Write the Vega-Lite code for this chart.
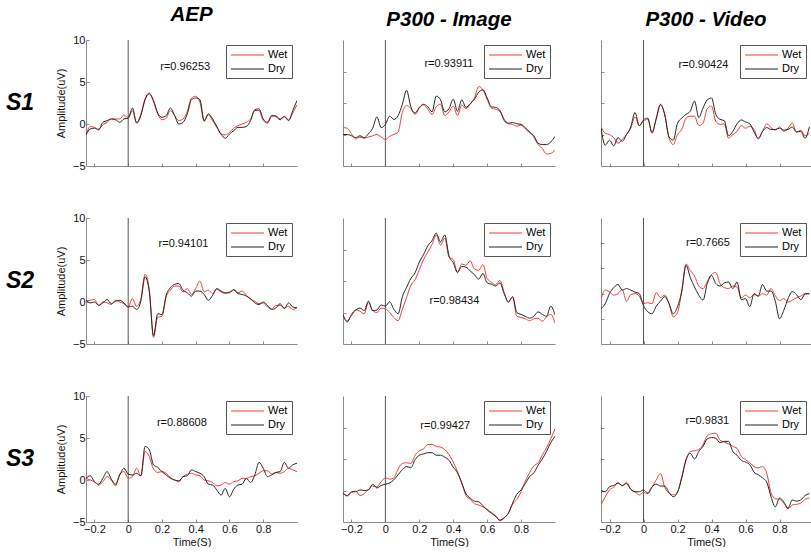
{
"$schema": "https://vega.github.io/schema/vega-lite/v6.json",
"padding": {"left": 0, "top": 4, "right": 0, "bottom": 0},
"autosize": {"type": "pad"},
"config": {
  "view": {"stroke": null},
  "font": "Liberation Sans",
  "axis": {"domainColor": "#8a8a8a", "tickColor": "#8a8a8a", "grid": false, "tickSize": -3, "labelFontSize": 11, "titleFontSize": 11, "titleFontWeight": "normal", "labelColor": "#111", "titleColor": "#111", "labelPadding": 4},
  "title": {"fontSize": 20.5, "fontStyle": "italic", "fontWeight": "bold", "frame": "group", "baseline": "alphabetic", "offset": 9, "color": "#000"},
  "legend": {"title": null, "orient": "top-right", "offset": 5, "strokeColor": "#555", "fillColor": "white", "padding": 4, "symbolType": "M-1,0H5.6", "symbolSize": 100, "symbolStrokeWidth": 1.2, "labelFontSize": 11, "labelOffset": 26, "rowPadding": 3}
},
"datasets": {
"s1_aep": [
{"t":-0.25,"Wet":-1.3,"Dry":-1.3},{"t":-0.225,"Wet":-0.3,"Dry":-0.6},{"t":-0.2,"Wet":-0.4,"Dry":-0.5},{"t":-0.175,"Wet":-0.6,"Dry":-0.7},{"t":-0.15,"Wet":-0.1,"Dry":0.2},{"t":-0.125,"Wet":0.2,"Dry":0.4},{"t":-0.1,"Wet":0.6,"Dry":0.6},{"t":-0.075,"Wet":0.6,"Dry":0.5},{"t":-0.05,"Wet":0.6,"Dry":0.2},{"t":-0.025,"Wet":1.1,"Dry":0.6},{"t":0,"Wet":0.7,"Dry":0.7},{"t":0.025,"Wet":1.6,"Dry":1.9},{"t":0.05,"Wet":0.2,"Dry":0.1},{"t":0.075,"Wet":1.2,"Dry":1.0},{"t":0.1,"Wet":3.0,"Dry":2.9},{"t":0.125,"Wet":3.7,"Dry":3.6},{"t":0.15,"Wet":2.6,"Dry":2.8},{"t":0.175,"Wet":1.2,"Dry":1.3},{"t":0.2,"Wet":0.5,"Dry":0.8},{"t":0.225,"Wet":0.7,"Dry":1.0},{"t":0.25,"Wet":1.6,"Dry":1.9},{"t":0.275,"Wet":1.0,"Dry":1.0},{"t":0.3,"Wet":0.4,"Dry":0.0},{"t":0.325,"Wet":0.6,"Dry":0.2},{"t":0.35,"Wet":1.5,"Dry":1.2},{"t":0.375,"Wet":3.1,"Dry":2.9},{"t":0.4,"Wet":3.3,"Dry":3.1},{"t":0.425,"Wet":2.6,"Dry":2.9},{"t":0.45,"Wet":0.3,"Dry":0.4},{"t":0.475,"Wet":1.1,"Dry":1.2},{"t":0.5,"Wet":0.4,"Dry":0.6},{"t":0.525,"Wet":-0.4,"Dry":-0.3},{"t":0.55,"Wet":-1.2,"Dry":-1.2},{"t":0.575,"Wet":-1.3,"Dry":-1.7},{"t":0.6,"Wet":-1.0,"Dry":-1.2},{"t":0.625,"Wet":-0.5,"Dry":-0.8},{"t":0.65,"Wet":-0.2,"Dry":-0.4},{"t":0.675,"Wet":0.0,"Dry":-0.4},{"t":0.7,"Wet":0.2,"Dry":-0.3},{"t":0.725,"Wet":0.6,"Dry":0.4},{"t":0.75,"Wet":1.6,"Dry":1.7},{"t":0.775,"Wet":1.6,"Dry":1.8},{"t":0.8,"Wet":0.4,"Dry":0.6},{"t":0.825,"Wet":0.1,"Dry":0.2},{"t":0.85,"Wet":0.9,"Dry":1.0},{"t":0.875,"Wet":1.0,"Dry":0.9},{"t":0.9,"Wet":0.6,"Dry":0.5},{"t":0.925,"Wet":0.9,"Dry":0.9},{"t":0.95,"Wet":0.5,"Dry":0.4},{"t":0.975,"Wet":1.3,"Dry":1.6},{"t":1.0,"Wet":2.3,"Dry":2.8}
],
"s1_img": [
{"t":-0.25,"Wet":-3.9,"Dry":-5.0},{"t":-0.225,"Wet":-4.0,"Dry":-5.0},{"t":-0.2,"Wet":-4.9,"Dry":-5.2},{"t":-0.175,"Wet":-5.7,"Dry":-5.5},{"t":-0.15,"Wet":-5.4,"Dry":-5.2},{"t":-0.125,"Wet":-5.6,"Dry":-5.5},{"t":-0.1,"Wet":-5.4,"Dry":-4.9},{"t":-0.075,"Wet":-5.2,"Dry":-4.0},{"t":-0.05,"Wet":-5.0,"Dry":-2.2},{"t":-0.025,"Wet":-5.4,"Dry":-3.9},{"t":0,"Wet":-5.8,"Dry":-3.4},{"t":0.025,"Wet":-5.3,"Dry":-2.1},{"t":0.05,"Wet":-5.0,"Dry":-2.6},{"t":0.075,"Wet":-4.6,"Dry":-2.0},{"t":0.1,"Wet":-1.5,"Dry":-0.2},{"t":0.125,"Wet":-0.4,"Dry":2.0},{"t":0.15,"Wet":-0.9,"Dry":-0.6},{"t":0.175,"Wet":-1.8,"Dry":-1.6},{"t":0.2,"Wet":-0.8,"Dry":-0.7},{"t":0.225,"Wet":-0.3,"Dry":-0.2},{"t":0.25,"Wet":-1.0,"Dry":-0.6},{"t":0.275,"Wet":-1.8,"Dry":-1.4},{"t":0.3,"Wet":-0.6,"Dry":1.1},{"t":0.325,"Wet":-0.2,"Dry":0.5},{"t":0.35,"Wet":-2.0,"Dry":-1.4},{"t":0.375,"Wet":-1.4,"Dry":-0.9},{"t":0.4,"Wet":-0.5,"Dry":0.6},{"t":0.425,"Wet":-2.0,"Dry":-1.3},{"t":0.45,"Wet":-0.3,"Dry":0.5},{"t":0.475,"Wet":-0.9,"Dry":-0.7},{"t":0.5,"Wet":-0.2,"Dry":-0.1},{"t":0.525,"Wet":0.8,"Dry":0.6},{"t":0.55,"Wet":2.6,"Dry":1.7},{"t":0.575,"Wet":2.1,"Dry":2.1},{"t":0.6,"Wet":0.6,"Dry":0.8},{"t":0.625,"Wet":-0.8,"Dry":-0.6},{"t":0.65,"Wet":-1.0,"Dry":-0.7},{"t":0.675,"Wet":-1.3,"Dry":-1.2},{"t":0.7,"Wet":-2.8,"Dry":-2.6},{"t":0.725,"Wet":-3.3,"Dry":-3.2},{"t":0.75,"Wet":-3.4,"Dry":-3.1},{"t":0.775,"Wet":-3.7,"Dry":-3.3},{"t":0.8,"Wet":-3.5,"Dry":-3.4},{"t":0.825,"Wet":-4.1,"Dry":-3.9},{"t":0.85,"Wet":-4.7,"Dry":-4.6},{"t":0.875,"Wet":-5.4,"Dry":-5.2},{"t":0.9,"Wet":-6.6,"Dry":-6.4},{"t":0.925,"Wet":-7.2,"Dry":-6.6},{"t":0.95,"Wet":-8.1,"Dry":-6.6},{"t":0.975,"Wet":-8.0,"Dry":-6.2},{"t":1.0,"Wet":-7.5,"Dry":-5.3}
],
"s1_vid": [
{"t":-0.25,"Wet":-3.8,"Dry":-4.0},{"t":-0.225,"Wet":-4.8,"Dry":-6.7},{"t":-0.2,"Wet":-5.0,"Dry":-5.9},{"t":-0.175,"Wet":-5.5,"Dry":-6.8},{"t":-0.15,"Wet":-6.4,"Dry":-5.5},{"t":-0.125,"Wet":-5.8,"Dry":-6.1},{"t":-0.1,"Wet":-5.0,"Dry":-5.0},{"t":-0.075,"Wet":-4.0,"Dry":-3.8},{"t":-0.05,"Wet":-2.2,"Dry":-1.5},{"t":-0.025,"Wet":-3.6,"Dry":-3.6},{"t":0,"Wet":-2.9,"Dry":-2.7},{"t":0.025,"Wet":-2.6,"Dry":-2.4},{"t":0.05,"Wet":-4.6,"Dry":-4.8},{"t":0.075,"Wet":-2.6,"Dry":-2.4},{"t":0.1,"Wet":-0.3,"Dry":-0.2},{"t":0.125,"Wet":-1.8,"Dry":-1.9},{"t":0.15,"Wet":-5.5,"Dry":-5.4},{"t":0.175,"Wet":-6.6,"Dry":-5.9},{"t":0.2,"Wet":-5.0,"Dry":-3.2},{"t":0.225,"Wet":-4.2,"Dry":-2.4},{"t":0.25,"Wet":-2.4,"Dry":-1.8},{"t":0.275,"Wet":-2.1,"Dry":-1.3},{"t":0.3,"Wet":-2.1,"Dry":0.3},{"t":0.325,"Wet":-3.6,"Dry":-2.3},{"t":0.35,"Wet":-3.2,"Dry":-0.8},{"t":0.375,"Wet":-0.9,"Dry":0.5},{"t":0.4,"Wet":-0.5,"Dry":0.8},{"t":0.425,"Wet":-2.9,"Dry":-1.8},{"t":0.45,"Wet":-3.4,"Dry":-2.6},{"t":0.475,"Wet":-3.3,"Dry":-2.8},{"t":0.5,"Wet":-5.6,"Dry":-5.2},{"t":0.525,"Wet":-5.0,"Dry":-4.5},{"t":0.55,"Wet":-4.5,"Dry":-3.3},{"t":0.575,"Wet":-3.6,"Dry":-2.7},{"t":0.6,"Wet":-4.0,"Dry":-3.0},{"t":0.625,"Wet":-3.7,"Dry":-3.3},{"t":0.65,"Wet":-4.2,"Dry":-4.6},{"t":0.675,"Wet":-5.7,"Dry":-5.6},{"t":0.7,"Wet":-4.5,"Dry":-4.5},{"t":0.725,"Wet":-3.3,"Dry":-3.9},{"t":0.75,"Wet":-3.9,"Dry":-4.2},{"t":0.775,"Wet":-4.3,"Dry":-4.2},{"t":0.8,"Wet":-3.8,"Dry":-4.0},{"t":0.825,"Wet":-4.5,"Dry":-4.3},{"t":0.85,"Wet":-4.0,"Dry":-4.2},{"t":0.875,"Wet":-3.2,"Dry":-3.8},{"t":0.9,"Wet":-4.6,"Dry":-4.6},{"t":0.925,"Wet":-4.3,"Dry":-4.5},{"t":0.95,"Wet":-5.2,"Dry":-5.6},{"t":0.975,"Wet":-4.8,"Dry":-3.8}
],
"s2_aep": [
{"t":-0.25,"Wet":0.1,"Dry":0.2},{"t":-0.225,"Wet":0.2,"Dry":-0.1},{"t":-0.2,"Wet":0.3,"Dry":0.0},{"t":-0.175,"Wet":-0.4,"Dry":-0.4},{"t":-0.15,"Wet":0.0,"Dry":-0.1},{"t":-0.125,"Wet":-0.1,"Dry":0.3},{"t":-0.1,"Wet":-0.3,"Dry":-0.2},{"t":-0.075,"Wet":0.2,"Dry":0.1},{"t":-0.05,"Wet":0.0,"Dry":0.2},{"t":-0.025,"Wet":-0.2,"Dry":-0.1},{"t":0,"Wet":-0.6,"Dry":-0.6},{"t":0.025,"Wet":0.4,"Dry":-0.5},{"t":0.05,"Wet":-0.5,"Dry":-0.9},{"t":0.075,"Wet":0.4,"Dry":0.1},{"t":0.1,"Wet":3.3,"Dry":3.0},{"t":0.125,"Wet":1.5,"Dry":1.2},{"t":0.15,"Wet":-4.2,"Dry":-4.0},{"t":0.175,"Wet":-1.8,"Dry":-1.4},{"t":0.2,"Wet":-1.7,"Dry":-1.5},{"t":0.225,"Wet":0.6,"Dry":0.8},{"t":0.25,"Wet":1.4,"Dry":1.7},{"t":0.275,"Wet":1.9,"Dry":2.1},{"t":0.3,"Wet":1.9,"Dry":2.2},{"t":0.325,"Wet":1.2,"Dry":1.4},{"t":0.35,"Wet":1.6,"Dry":1.1},{"t":0.375,"Wet":0.9,"Dry":0.7},{"t":0.4,"Wet":1.6,"Dry":1.3},{"t":0.425,"Wet":2.5,"Dry":1.3},{"t":0.45,"Wet":1.2,"Dry":0.9},{"t":0.475,"Wet":1.4,"Dry":0.2},{"t":0.5,"Wet":1.0,"Dry":0.8},{"t":0.525,"Wet":1.5,"Dry":1.6},{"t":0.55,"Wet":1.2,"Dry":1.3},{"t":0.575,"Wet":1.0,"Dry":1.1},{"t":0.6,"Wet":1.2,"Dry":1.1},{"t":0.625,"Wet":1.4,"Dry":1.5},{"t":0.65,"Wet":1.1,"Dry":1.0},{"t":0.675,"Wet":1.3,"Dry":0.9},{"t":0.7,"Wet":0.8,"Dry":0.7},{"t":0.725,"Wet":0.3,"Dry":0.4},{"t":0.75,"Wet":0.1,"Dry":-0.1},{"t":0.775,"Wet":-0.2,"Dry":-0.3},{"t":0.8,"Wet":-0.1,"Dry":0.0},{"t":0.825,"Wet":-0.6,"Dry":-0.4},{"t":0.85,"Wet":-0.8,"Dry":-0.9},{"t":0.875,"Wet":-0.4,"Dry":-0.7},{"t":0.9,"Wet":-0.4,"Dry":-0.2},{"t":0.925,"Wet":-0.7,"Dry":-0.8},{"t":0.95,"Wet":-0.5,"Dry":-0.1},{"t":0.975,"Wet":-0.9,"Dry":-0.6},{"t":1.0,"Wet":-0.6,"Dry":-0.7}
],
"s2_img": [
{"t":-0.25,"Wet":-5.6,"Dry":-5.3},{"t":-0.225,"Wet":-6.3,"Dry":-6.5},{"t":-0.2,"Wet":-5.5,"Dry":-5.3},{"t":-0.175,"Wet":-4.6,"Dry":-4.6},{"t":-0.15,"Wet":-4.8,"Dry":-4.3},{"t":-0.125,"Wet":-5.2,"Dry":-4.7},{"t":-0.1,"Wet":-3.4,"Dry":-3.2},{"t":-0.075,"Wet":-4.7,"Dry":-4.7},{"t":-0.05,"Wet":-5.0,"Dry":-4.6},{"t":-0.025,"Wet":-4.3,"Dry":-3.8},{"t":0,"Wet":-4.4,"Dry":-4.0},{"t":0.025,"Wet":-5.0,"Dry":-3.3},{"t":0.05,"Wet":-5.8,"Dry":-4.5},{"t":0.075,"Wet":-6.3,"Dry":-5.2},{"t":0.1,"Wet":-4.5,"Dry":-2.5},{"t":0.125,"Wet":-2.6,"Dry":-1.0},{"t":0.15,"Wet":-0.7,"Dry":0.4},{"t":0.175,"Wet":0.2,"Dry":1.3},{"t":0.2,"Wet":1.8,"Dry":3.0},{"t":0.225,"Wet":3.4,"Dry":4.2},{"t":0.25,"Wet":4.6,"Dry":5.6},{"t":0.275,"Wet":5.8,"Dry":6.4},{"t":0.3,"Wet":7.3,"Dry":7.6},{"t":0.325,"Wet":5.7,"Dry":6.2},{"t":0.35,"Wet":6.8,"Dry":7.3},{"t":0.375,"Wet":3.8,"Dry":4.0},{"t":0.4,"Wet":3.4,"Dry":2.9},{"t":0.425,"Wet":1.3,"Dry":1.4},{"t":0.45,"Wet":2.7,"Dry":2.3},{"t":0.475,"Wet":2.5,"Dry":2.2},{"t":0.5,"Wet":3.2,"Dry":1.6},{"t":0.525,"Wet":1.9,"Dry":1.0},{"t":0.55,"Wet":1.7,"Dry":0.3},{"t":0.575,"Wet":2.6,"Dry":1.2},{"t":0.6,"Wet":0.4,"Dry":-0.3},{"t":0.625,"Wet":-0.2,"Dry":-0.5},{"t":0.65,"Wet":-0.6,"Dry":-0.8},{"t":0.675,"Wet":0.1,"Dry":-0.3},{"t":0.7,"Wet":-1.8,"Dry":-2.0},{"t":0.725,"Wet":-3.4,"Dry":-3.3},{"t":0.75,"Wet":-2.5,"Dry":-2.5},{"t":0.775,"Wet":-5.6,"Dry":-5.0},{"t":0.8,"Wet":-5.8,"Dry":-5.3},{"t":0.825,"Wet":-6.0,"Dry":-5.6},{"t":0.85,"Wet":-6.3,"Dry":-5.9},{"t":0.875,"Wet":-6.0,"Dry":-5.6},{"t":0.9,"Wet":-5.9,"Dry":-4.9},{"t":0.925,"Wet":-6.4,"Dry":-5.3},{"t":0.95,"Wet":-5.7,"Dry":-5.6},{"t":0.975,"Wet":-5.3,"Dry":-4.0},{"t":1.0,"Wet":-6.7,"Dry":-5.4}
],
"s2_vid": [
{"t":-0.25,"Wet":-6.0,"Dry":-8.0},{"t":-0.225,"Wet":-4.3,"Dry":-7.0},{"t":-0.2,"Wet":-4.7,"Dry":-5.0},{"t":-0.175,"Wet":-5.3,"Dry":-3.8},{"t":-0.15,"Wet":-5.0,"Dry":-3.2},{"t":-0.125,"Wet":-4.2,"Dry":-4.3},{"t":-0.1,"Wet":-6.5,"Dry":-4.0},{"t":-0.075,"Wet":-5.2,"Dry":-4.3},{"t":-0.05,"Wet":-5.0,"Dry":-4.7},{"t":-0.025,"Wet":-5.5,"Dry":-5.0},{"t":0,"Wet":-7.0,"Dry":-7.4},{"t":0.025,"Wet":-6.8,"Dry":-8.6},{"t":0.05,"Wet":-7.0,"Dry":-9.0},{"t":0.075,"Wet":-4.8,"Dry":-7.5},{"t":0.1,"Wet":-5.8,"Dry":-6.5},{"t":0.125,"Wet":-5.3,"Dry":-5.6},{"t":0.15,"Wet":-7.0,"Dry":-7.0},{"t":0.175,"Wet":-9.6,"Dry":-9.0},{"t":0.2,"Wet":-8.8,"Dry":-7.6},{"t":0.225,"Wet":-4.3,"Dry":-4.6},{"t":0.25,"Wet":0.9,"Dry":0.6},{"t":0.275,"Wet":-0.4,"Dry":-1.8},{"t":0.3,"Wet":-1.5,"Dry":-3.7},{"t":0.325,"Wet":-3.5,"Dry":-5.3},{"t":0.35,"Wet":-4.0,"Dry":-6.3},{"t":0.375,"Wet":-2.6,"Dry":-3.0},{"t":0.4,"Wet":-1.2,"Dry":-1.4},{"t":0.425,"Wet":-0.8,"Dry":-3.0},{"t":0.45,"Wet":-3.0,"Dry":-3.5},{"t":0.475,"Wet":-3.8,"Dry":-2.9},{"t":0.5,"Wet":-4.0,"Dry":-2.7},{"t":0.525,"Wet":-3.5,"Dry":-4.0},{"t":0.55,"Wet":-3.7,"Dry":-2.7},{"t":0.575,"Wet":-5.8,"Dry":-6.2},{"t":0.6,"Wet":-5.3,"Dry":-6.0},{"t":0.625,"Wet":-5.8,"Dry":-7.6},{"t":0.65,"Wet":-5.2,"Dry":-5.0},{"t":0.675,"Wet":-5.5,"Dry":-5.5},{"t":0.7,"Wet":-5.0,"Dry":-3.2},{"t":0.725,"Wet":-5.3,"Dry":-4.5},{"t":0.75,"Wet":-4.0,"Dry":-4.5},{"t":0.775,"Wet":-5.4,"Dry":-6.5},{"t":0.8,"Wet":-6.4,"Dry":-10.0},{"t":0.825,"Wet":-6.0,"Dry":-8.3},{"t":0.85,"Wet":-6.7,"Dry":-6.0},{"t":0.875,"Wet":-6.3,"Dry":-4.6},{"t":0.9,"Wet":-5.8,"Dry":-5.2},{"t":0.925,"Wet":-5.5,"Dry":-6.2},{"t":0.95,"Wet":-5.0,"Dry":-5.1},{"t":0.975,"Wet":-5.1,"Dry":-5.0}
],
"s3_aep": [
{"t":-0.25,"Wet":0.2,"Dry":0.2},{"t":-0.225,"Wet":0.0,"Dry":0.5},{"t":-0.2,"Wet":-0.2,"Dry":-0.2},{"t":-0.175,"Wet":-0.6,"Dry":-0.5},{"t":-0.15,"Wet":-0.2,"Dry":0.2},{"t":-0.125,"Wet":0.4,"Dry":1.0},{"t":-0.1,"Wet":0.0,"Dry":0.1},{"t":-0.075,"Wet":-0.7,"Dry":-0.5},{"t":-0.05,"Wet":0.7,"Dry":0.6},{"t":-0.025,"Wet":1.0,"Dry":1.4},{"t":0,"Wet":0.2,"Dry":0.7},{"t":0.025,"Wet":0.4,"Dry":0.6},{"t":0.05,"Wet":1.4,"Dry":0.8},{"t":0.075,"Wet":0.5,"Dry":0.5},{"t":0.1,"Wet":3.4,"Dry":4.0},{"t":0.125,"Wet":2.8,"Dry":3.6},{"t":0.15,"Wet":1.3,"Dry":1.8},{"t":0.175,"Wet":0.9,"Dry":1.5},{"t":0.2,"Wet":1.0,"Dry":1.0},{"t":0.225,"Wet":0.8,"Dry":0.6},{"t":0.25,"Wet":0.3,"Dry":0.2},{"t":0.275,"Wet":0.0,"Dry":0.0},{"t":0.3,"Wet":-0.2,"Dry":-0.1},{"t":0.325,"Wet":0.4,"Dry":0.4},{"t":0.35,"Wet":0.7,"Dry":0.5},{"t":0.375,"Wet":0.8,"Dry":1.2},{"t":0.4,"Wet":0.6,"Dry":1.0},{"t":0.425,"Wet":0.5,"Dry":0.8},{"t":0.45,"Wet":0.0,"Dry":0.4},{"t":0.475,"Wet":-0.1,"Dry":-0.5},{"t":0.5,"Wet":-0.3,"Dry":-0.6},{"t":0.525,"Wet":-0.7,"Dry":-1.2},{"t":0.55,"Wet":-0.6,"Dry":-1.8},{"t":0.575,"Wet":-0.3,"Dry":-1.0},{"t":0.6,"Wet":-0.5,"Dry":-2.0},{"t":0.625,"Wet":-0.2,"Dry":-1.1},{"t":0.65,"Wet":-0.1,"Dry":-0.6},{"t":0.675,"Wet":0.2,"Dry":-0.5},{"t":0.7,"Wet":0.2,"Dry":0.2},{"t":0.725,"Wet":0.4,"Dry":-0.3},{"t":0.75,"Wet":0.5,"Dry":0.6},{"t":0.775,"Wet":0.8,"Dry":2.1},{"t":0.8,"Wet":1.1,"Dry":1.4},{"t":0.825,"Wet":1.1,"Dry":0.4},{"t":0.85,"Wet":0.7,"Dry":0.6},{"t":0.875,"Wet":0.9,"Dry":0.9},{"t":0.9,"Wet":0.8,"Dry":1.0},{"t":0.925,"Wet":1.0,"Dry":2.1},{"t":0.95,"Wet":1.4,"Dry":1.4},{"t":0.975,"Wet":1.2,"Dry":1.8},{"t":1.0,"Wet":1.0,"Dry":2.0}
],
"s3_img": [
{"t":-0.25,"Wet":-5.4,"Dry":-5.4},{"t":-0.225,"Wet":-5.9,"Dry":-5.8},{"t":-0.2,"Wet":-5.3,"Dry":-5.2},{"t":-0.175,"Wet":-5.1,"Dry":-5.2},{"t":-0.15,"Wet":-5.8,"Dry":-4.9},{"t":-0.125,"Wet":-5.5,"Dry":-5.0},{"t":-0.1,"Wet":-4.8,"Dry":-4.9},{"t":-0.075,"Wet":-4.3,"Dry":-4.0},{"t":-0.05,"Wet":-4.4,"Dry":-4.6},{"t":-0.025,"Wet":-3.6,"Dry":-4.2},{"t":0,"Wet":-3.0,"Dry":-4.0},{"t":0.025,"Wet":-3.2,"Dry":-3.8},{"t":0.05,"Wet":-3.0,"Dry":-3.3},{"t":0.075,"Wet":-1.6,"Dry":-2.5},{"t":0.1,"Wet":-0.7,"Dry":-1.7},{"t":0.125,"Wet":-0.6,"Dry":-1.2},{"t":0.15,"Wet":-0.7,"Dry":-1.4},{"t":0.175,"Wet":0.6,"Dry":-0.1},{"t":0.2,"Wet":1.3,"Dry":0.6},{"t":0.225,"Wet":1.6,"Dry":0.8},{"t":0.25,"Wet":2.3,"Dry":1.0},{"t":0.275,"Wet":2.3,"Dry":1.0},{"t":0.3,"Wet":2.0,"Dry":0.6},{"t":0.325,"Wet":1.9,"Dry":0.6},{"t":0.35,"Wet":1.5,"Dry":0.3},{"t":0.375,"Wet":0.7,"Dry":-0.2},{"t":0.4,"Wet":-0.5,"Dry":-1.3},{"t":0.425,"Wet":-2.0,"Dry":-2.2},{"t":0.45,"Wet":-3.8,"Dry":-3.8},{"t":0.475,"Wet":-5.8,"Dry":-5.5},{"t":0.5,"Wet":-6.4,"Dry":-6.2},{"t":0.525,"Wet":-7.1,"Dry":-6.7},{"t":0.55,"Wet":-7.3,"Dry":-6.8},{"t":0.575,"Wet":-7.6,"Dry":-7.4},{"t":0.6,"Wet":-8.0,"Dry":-8.1},{"t":0.625,"Wet":-8.5,"Dry":-8.6},{"t":0.65,"Wet":-9.0,"Dry":-9.1},{"t":0.675,"Wet":-9.8,"Dry":-9.7},{"t":0.7,"Wet":-9.4,"Dry":-9.3},{"t":0.725,"Wet":-8.6,"Dry":-8.6},{"t":0.75,"Wet":-7.2,"Dry":-7.0},{"t":0.775,"Wet":-6.4,"Dry":-5.6},{"t":0.8,"Wet":-5.2,"Dry":-4.9},{"t":0.825,"Wet":-3.5,"Dry":-3.9},{"t":0.85,"Wet":-2.2,"Dry":-2.8},{"t":0.875,"Wet":-1.1,"Dry":-2.2},{"t":0.9,"Wet":-0.6,"Dry":-1.0},{"t":0.925,"Wet":0.6,"Dry":0.0},{"t":0.95,"Wet":1.8,"Dry":1.2},{"t":0.975,"Wet":3.2,"Dry":2.6},{"t":1.0,"Wet":4.8,"Dry":3.6}
],
"s3_vid": [
{"t":-0.25,"Wet":-7.3,"Dry":-5.0},{"t":-0.225,"Wet":-6.0,"Dry":-5.2},{"t":-0.2,"Wet":-4.9,"Dry":-4.4},{"t":-0.175,"Wet":-4.5,"Dry":-4.2},{"t":-0.15,"Wet":-3.8,"Dry":-3.8},{"t":-0.125,"Wet":-4.3,"Dry":-4.2},{"t":-0.1,"Wet":-3.7,"Dry":-3.9},{"t":-0.075,"Wet":-4.8,"Dry":-4.8},{"t":-0.05,"Wet":-5.2,"Dry":-5.2},{"t":-0.025,"Wet":-5.7,"Dry":-5.2},{"t":0,"Wet":-5.3,"Dry":-4.9},{"t":0.025,"Wet":-5.5,"Dry":-5.4},{"t":0.05,"Wet":-4.5,"Dry":-4.4},{"t":0.075,"Wet":-3.3,"Dry":-4.0},{"t":0.1,"Wet":-2.3,"Dry":-4.3},{"t":0.125,"Wet":-4.5,"Dry":-4.3},{"t":0.15,"Wet":-5.4,"Dry":-5.3},{"t":0.175,"Wet":-5.7,"Dry":-6.0},{"t":0.2,"Wet":-5.2,"Dry":-5.3},{"t":0.225,"Wet":-2.8,"Dry":-3.0},{"t":0.25,"Wet":-0.2,"Dry":-0.1},{"t":0.275,"Wet":1.2,"Dry":0.9},{"t":0.3,"Wet":1.3,"Dry":0.0},{"t":0.325,"Wet":1.5,"Dry":1.2},{"t":0.35,"Wet":2.3,"Dry":2.0},{"t":0.375,"Wet":3.7,"Dry":3.2},{"t":0.4,"Wet":4.0,"Dry":3.4},{"t":0.425,"Wet":4.1,"Dry":3.3},{"t":0.45,"Wet":3.0,"Dry":2.6},{"t":0.475,"Wet":2.7,"Dry":2.8},{"t":0.5,"Wet":2.4,"Dry":2.8},{"t":0.525,"Wet":2.0,"Dry":1.2},{"t":0.55,"Wet":1.7,"Dry":0.6},{"t":0.575,"Wet":0.4,"Dry":-0.2},{"t":0.6,"Wet":-0.1,"Dry":-0.5},{"t":0.625,"Wet":-0.6,"Dry":-0.9},{"t":0.65,"Wet":-1.2,"Dry":-2.1},{"t":0.675,"Wet":-1.4,"Dry":-2.5},{"t":0.7,"Wet":-1.2,"Dry":-3.0},{"t":0.725,"Wet":-2.3,"Dry":-3.7},{"t":0.75,"Wet":-5.4,"Dry":-6.0},{"t":0.775,"Wet":-6.3,"Dry":-7.6},{"t":0.8,"Wet":-6.4,"Dry":-6.2},{"t":0.825,"Wet":-7.0,"Dry":-6.8},{"t":0.85,"Wet":-7.9,"Dry":-7.8},{"t":0.875,"Wet":-7.3,"Dry":-6.5},{"t":0.9,"Wet":-7.2,"Dry":-6.7},{"t":0.925,"Wet":-7.0,"Dry":-6.5},{"t":0.95,"Wet":-6.4,"Dry":-5.8},{"t":0.975,"Wet":-6.2,"Dry":-5.5}
]
},
"columns": 4,
"align": "each",
"bounds": "flush",
"spacing": {"row": 52, "column": 46},
"resolve": {"scale": {"color": "shared"}, "legend": {"color": "independent"}},
"concat": [
{"width": 40, "height": 126, "data": {"values": [{"s": "S1"}]}, "mark": {"type": "text", "fontSize": 23, "fontStyle": "italic", "fontWeight": "bold", "color": "#000"}, "encoding": {"text": {"field": "s"}}},
{"width": 211, "height": 126, "title": "AEP", "data": {"values": [{"r": "r=0.96253"}]},
 "layer": [
  {"mark": {"type": "rule", "color": "#555", "strokeWidth": 1}, "encoding": {"x": {"datum": 0, "type": "quantitative"}}},
  {"data": {"name": "s1_aep"}, "transform": [{"fold": ["Wet", "Dry"], "as": ["series", "v"]}], "mark": {"type": "line", "strokeWidth": 1, "interpolate": "monotone", "clip": true},
   "encoding": {"x": {"field": "t", "type": "quantitative", "scale": {"domain": [-0.25, 1.0], "nice": false}, "axis": {"values": [-0.2, 0, 0.2, 0.4, 0.6, 0.8], "labels": false, "title": null}},
    "y": {"field": "v", "type": "quantitative", "scale": {"domain": [-5, 10], "nice": false, "zero": false}, "axis": {"values": [-5, 0, 5, 10], "title": "Amplitude(uV)", "titlePadding": 6}},
    "color": {"field": "series", "type": "nominal", "scale": {"domain": ["Wet", "Dry"], "range": ["#f03c3c", "#262626"]}}}},
  {"mark": {"type": "text", "align": "left", "fontSize": 11, "color": "#111"}, "encoding": {"x": {"datum": 0.19, "type": "quantitative"}, "y": {"datum": 6.8, "type": "quantitative"}, "text": {"field": "r"}}}
 ]},
{"width": 212, "height": 126, "title": "P300 - Image", "data": {"values": [{"r": "r=0.93911"}]},
 "layer": [
  {"mark": {"type": "rule", "color": "#555", "strokeWidth": 1}, "encoding": {"x": {"datum": 0, "type": "quantitative"}}},
  {"data": {"name": "s1_img"}, "transform": [{"fold": ["Wet", "Dry"], "as": ["series", "v"]}], "mark": {"type": "line", "strokeWidth": 1, "interpolate": "monotone", "clip": true},
   "encoding": {"x": {"field": "t", "type": "quantitative", "scale": {"domain": [-0.25, 1.0], "nice": false}, "axis": {"values": [-0.2, 0, 0.2, 0.4, 0.6, 0.8], "labels": false, "title": null}},
    "y": {"field": "v", "type": "quantitative", "scale": {"domain": [-10, 10], "nice": false, "zero": false}, "axis": {"values": [-5, 0, 5], "labels": false, "title": null}},
    "color": {"field": "series", "type": "nominal", "scale": {"domain": ["Wet", "Dry"], "range": ["#f03c3c", "#262626"]}}}},
  {"mark": {"type": "text", "align": "left", "fontSize": 11, "color": "#111"}, "encoding": {"x": {"datum": 0.23, "type": "quantitative"}, "y": {"datum": 6.2, "type": "quantitative"}, "text": {"field": "r"}}}
 ]},
{"width": 210, "height": 126, "title": "P300 - Video", "data": {"values": [{"r": "r=0.90424"}]},
 "layer": [
  {"mark": {"type": "rule", "color": "#555", "strokeWidth": 1}, "encoding": {"x": {"datum": 0, "type": "quantitative"}}},
  {"data": {"name": "s1_vid"}, "transform": [{"fold": ["Wet", "Dry"], "as": ["series", "v"]}], "mark": {"type": "line", "strokeWidth": 1, "interpolate": "monotone", "clip": true},
   "encoding": {"x": {"field": "t", "type": "quantitative", "scale": {"domain": [-0.25, 0.985], "nice": false}, "axis": {"values": [-0.2, 0, 0.2, 0.4, 0.6, 0.8], "labels": false, "title": null}},
    "y": {"field": "v", "type": "quantitative", "scale": {"domain": [-10, 10], "nice": false, "zero": false}, "axis": {"values": [-5, 0, 5], "labels": false, "title": null}},
    "color": {"field": "series", "type": "nominal", "scale": {"domain": ["Wet", "Dry"], "range": ["#f03c3c", "#262626"]}}}},
  {"mark": {"type": "text", "align": "left", "fontSize": 11, "color": "#111"}, "encoding": {"x": {"datum": 0.206, "type": "quantitative"}, "y": {"datum": 6.05, "type": "quantitative"}, "text": {"field": "r"}}}
 ]},
{"width": 40, "height": 126, "data": {"values": [{"s": "S2"}]}, "mark": {"type": "text", "fontSize": 23, "fontStyle": "italic", "fontWeight": "bold", "color": "#000"}, "encoding": {"text": {"field": "s"}}},
{"width": 211, "height": 126, "data": {"values": [{"r": "r=0.94101"}]},
 "layer": [
  {"mark": {"type": "rule", "color": "#555", "strokeWidth": 1}, "encoding": {"x": {"datum": 0, "type": "quantitative"}}},
  {"data": {"name": "s2_aep"}, "transform": [{"fold": ["Wet", "Dry"], "as": ["series", "v"]}], "mark": {"type": "line", "strokeWidth": 1, "interpolate": "monotone", "clip": true},
   "encoding": {"x": {"field": "t", "type": "quantitative", "scale": {"domain": [-0.25, 1.0], "nice": false}, "axis": {"values": [-0.2, 0, 0.2, 0.4, 0.6, 0.8], "labels": false, "title": null}},
    "y": {"field": "v", "type": "quantitative", "scale": {"domain": [-5, 10], "nice": false, "zero": false}, "axis": {"values": [-5, 0, 5, 10], "title": "Amplitude(uV)", "titlePadding": 6}},
    "color": {"field": "series", "type": "nominal", "scale": {"domain": ["Wet", "Dry"], "range": ["#f03c3c", "#262626"]}}}},
  {"mark": {"type": "text", "align": "left", "fontSize": 11, "color": "#111"}, "encoding": {"x": {"datum": 0.18, "type": "quantitative"}, "y": {"datum": 6.9, "type": "quantitative"}, "text": {"field": "r"}}}
 ]},
{"width": 212, "height": 126, "data": {"values": [{"r": "r=0.98434"}]},
 "layer": [
  {"mark": {"type": "rule", "color": "#555", "strokeWidth": 1}, "encoding": {"x": {"datum": 0, "type": "quantitative"}}},
  {"data": {"name": "s2_img"}, "transform": [{"fold": ["Wet", "Dry"], "as": ["series", "v"]}], "mark": {"type": "line", "strokeWidth": 1, "interpolate": "monotone", "clip": true},
   "encoding": {"x": {"field": "t", "type": "quantitative", "scale": {"domain": [-0.25, 1.0], "nice": false}, "axis": {"values": [-0.2, 0, 0.2, 0.4, 0.6, 0.8], "labels": false, "title": null}},
    "y": {"field": "v", "type": "quantitative", "scale": {"domain": [-10, 10], "nice": false, "zero": false}, "axis": {"values": [-5, 0, 5], "labels": false, "title": null}},
    "color": {"field": "series", "type": "nominal", "scale": {"domain": ["Wet", "Dry"], "range": ["#f03c3c", "#262626"]}}}},
  {"mark": {"type": "text", "align": "left", "fontSize": 11, "color": "#111"}, "encoding": {"x": {"datum": 0.26, "type": "quantitative"}, "y": {"datum": -3.1, "type": "quantitative"}, "text": {"field": "r"}}}
 ]},
{"width": 210, "height": 126, "data": {"values": [{"r": "r=0.7665"}]},
 "layer": [
  {"mark": {"type": "rule", "color": "#555", "strokeWidth": 1}, "encoding": {"x": {"datum": 0, "type": "quantitative"}}},
  {"data": {"name": "s2_vid"}, "transform": [{"fold": ["Wet", "Dry"], "as": ["series", "v"]}], "mark": {"type": "line", "strokeWidth": 1, "interpolate": "monotone", "clip": true},
   "encoding": {"x": {"field": "t", "type": "quantitative", "scale": {"domain": [-0.25, 0.985], "nice": false}, "axis": {"values": [-0.2, 0, 0.2, 0.4, 0.6, 0.8], "labels": false, "title": null}},
    "y": {"field": "v", "type": "quantitative", "scale": {"domain": [-15, 10], "nice": false, "zero": false}, "axis": {"values": [-10, -5, 0, 5], "labels": false, "title": null}},
    "color": {"field": "series", "type": "nominal", "scale": {"domain": ["Wet", "Dry"], "range": ["#f03c3c", "#262626"]}}}},
  {"mark": {"type": "text", "align": "left", "fontSize": 11, "color": "#111"}, "encoding": {"x": {"datum": 0.25, "type": "quantitative"}, "y": {"datum": 5.0, "type": "quantitative"}, "text": {"field": "r"}}}
 ]},
{"width": 40, "height": 126, "data": {"values": [{"s": "S3"}]}, "mark": {"type": "text", "fontSize": 23, "fontStyle": "italic", "fontWeight": "bold", "color": "#000"}, "encoding": {"text": {"field": "s"}}},
{"width": 211, "height": 126, "data": {"values": [{"r": "r=0.88608"}]},
 "layer": [
  {"mark": {"type": "rule", "color": "#555", "strokeWidth": 1}, "encoding": {"x": {"datum": 0, "type": "quantitative"}}},
  {"data": {"name": "s3_aep"}, "transform": [{"fold": ["Wet", "Dry"], "as": ["series", "v"]}], "mark": {"type": "line", "strokeWidth": 1, "interpolate": "monotone", "clip": true},
   "encoding": {"x": {"field": "t", "type": "quantitative", "scale": {"domain": [-0.25, 1.0], "nice": false}, "axis": {"values": [-0.2, 0, 0.2, 0.4, 0.6, 0.8], "format": ".1~f", "title": "Time(S)", "titlePadding": 2}},
    "y": {"field": "v", "type": "quantitative", "scale": {"domain": [-5, 10], "nice": false, "zero": false}, "axis": {"values": [-5, 0, 5, 10], "title": "Amplitude(uV)", "titlePadding": 6}},
    "color": {"field": "series", "type": "nominal", "scale": {"domain": ["Wet", "Dry"], "range": ["#f03c3c", "#262626"]}}}},
  {"mark": {"type": "text", "align": "left", "fontSize": 11, "color": "#111"}, "encoding": {"x": {"datum": 0.17, "type": "quantitative"}, "y": {"datum": 6.76, "type": "quantitative"}, "text": {"field": "r"}}}
 ]},
{"width": 212, "height": 126, "data": {"values": [{"r": "r=0.99427"}]},
 "layer": [
  {"mark": {"type": "rule", "color": "#555", "strokeWidth": 1}, "encoding": {"x": {"datum": 0, "type": "quantitative"}}},
  {"data": {"name": "s3_img"}, "transform": [{"fold": ["Wet", "Dry"], "as": ["series", "v"]}], "mark": {"type": "line", "strokeWidth": 1, "interpolate": "monotone", "clip": true},
   "encoding": {"x": {"field": "t", "type": "quantitative", "scale": {"domain": [-0.25, 1.0], "nice": false}, "axis": {"values": [-0.2, 0, 0.2, 0.4, 0.6, 0.8], "format": ".1~f", "title": "Time(S)", "titlePadding": 2}},
    "y": {"field": "v", "type": "quantitative", "scale": {"domain": [-10, 10], "nice": false, "zero": false}, "axis": {"values": [-5, 0, 5], "labels": false, "title": null}},
    "color": {"field": "series", "type": "nominal", "scale": {"domain": ["Wet", "Dry"], "range": ["#f03c3c", "#262626"]}}}},
  {"mark": {"type": "text", "align": "left", "fontSize": 11, "color": "#111"}, "encoding": {"x": {"datum": 0.206, "type": "quantitative"}, "y": {"datum": 5.3, "type": "quantitative"}, "text": {"field": "r"}}}
 ]},
{"width": 210, "height": 126, "data": {"values": [{"r": "r=0.9831"}]},
 "layer": [
  {"mark": {"type": "rule", "color": "#555", "strokeWidth": 1}, "encoding": {"x": {"datum": 0, "type": "quantitative"}}},
  {"data": {"name": "s3_vid"}, "transform": [{"fold": ["Wet", "Dry"], "as": ["series", "v"]}], "mark": {"type": "line", "strokeWidth": 1, "interpolate": "monotone", "clip": true},
   "encoding": {"x": {"field": "t", "type": "quantitative", "scale": {"domain": [-0.25, 0.985], "nice": false}, "axis": {"values": [-0.2, 0, 0.2, 0.4, 0.6, 0.8], "format": ".1~f", "title": "Time(S)", "titlePadding": 2}},
    "y": {"field": "v", "type": "quantitative", "scale": {"domain": [-10, 10], "nice": false, "zero": false}, "axis": {"values": [-5, 0, 5], "labels": false, "title": null}},
    "color": {"field": "series", "type": "nominal", "scale": {"domain": ["Wet", "Dry"], "range": ["#f03c3c", "#262626"]}}}},
  {"mark": {"type": "text", "align": "left", "fontSize": 11, "color": "#111"}, "encoding": {"x": {"datum": 0.247, "type": "quantitative"}, "y": {"datum": 5.98, "type": "quantitative"}, "text": {"field": "r"}}}
 ]}
]
}
